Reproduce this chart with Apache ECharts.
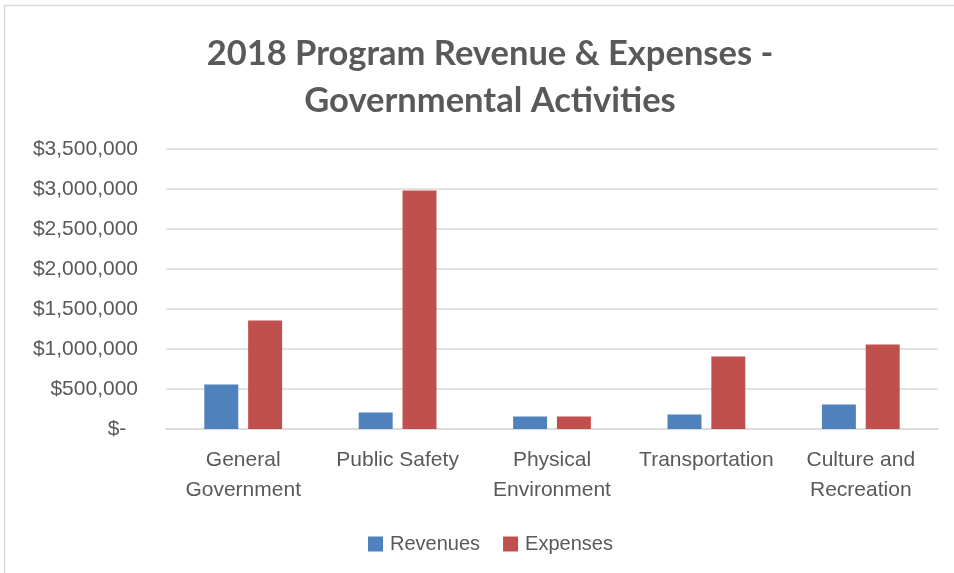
<!DOCTYPE html>
<html><head><meta charset="utf-8">
<script src="https://cdn.jsdelivr.net/npm/echarts@6/dist/echarts.min.js"></script>
<style>html,body{margin:0;padding:0;background:#fff}#c{width:954px;height:573px}</style>
</head><body><div id="c"></div>
<script>
const categories = ['General\nGovernment', 'Public Safety', 'Physical\nEnvironment', 'Transportation', 'Culture and\nRecreation'];
const revenues = [556000, 206000, 156000, 181000, 306000];
const expenses = [1356000, 2981000, 156000, 906000, 1056000];
const yTicks = { min: 0, max: 3500000, interval: 500000 };

const chart = echarts.init(document.getElementById('c'));
const fmt = v => v === 0 ? '$-  ' : '$' + v.toLocaleString('en-US');
chart.setOption({
  animation: false,
  backgroundColor: '#fff',
  graphic: [{ type: 'rect', shape: { x: 4.5, y: 5.5, width: 960, height: 580 }, style: { fill: 'none', stroke: '#D9D9D9', lineWidth: 1.5 }, silent: true }],
  title: {
    text: '2018 Program Revenue & Expenses -\nGovernmental Activities',
    left: 485, top: 25, textAlign: 'center',
    textStyle: { fontFamily: 'Lato', fontWeight: 'bold', fontSize: 34.5, color: '#595959', lineHeight: 47 }
  },
  legend: {
    data: ['Revenues', 'Expenses'], bottom: 14, left: 363,
    itemWidth: 15, itemHeight: 15, itemGap: 23, icon: 'rect',
    textStyle: { fontFamily: 'Liberation Sans', fontSize: 20, color: '#595959', padding: [0, 0, 0, 2] }
  },
  grid: { left: 166, right: 16, top: 149, bottom: 144, containLabel: false },
  xAxis: {
    type: 'category', data: categories,
    axisLine: { lineStyle: { color: '#D9D9D9', width: 1.5 } },
    axisTick: { show: false },
    axisLabel: { margin: 16, fontFamily: 'Liberation Sans', fontSize: 21, color: '#595959', lineHeight: 30, interval: 0 }
  },
  yAxis: {
    type: 'value', min: yTicks.min, max: yTicks.max, interval: yTicks.interval,
    axisLine: { show: false }, axisTick: { show: false },
    splitLine: { lineStyle: { color: '#D9D9D9', width: 1.5 } },
    axisLabel: { margin: 28, formatter: fmt, fontFamily: 'Liberation Sans', fontSize: 21, color: '#595959' }
  },
  series: [
    { name: 'Revenues', type: 'bar', data: revenues, barWidth: '22%', barGap: '29%', itemStyle: { color: '#4F81BD' } },
    { name: 'Expenses', type: 'bar', data: expenses, barWidth: '22%', barGap: '29%', itemStyle: { color: '#C0504D' } }
  ]
});
</script></body></html>
